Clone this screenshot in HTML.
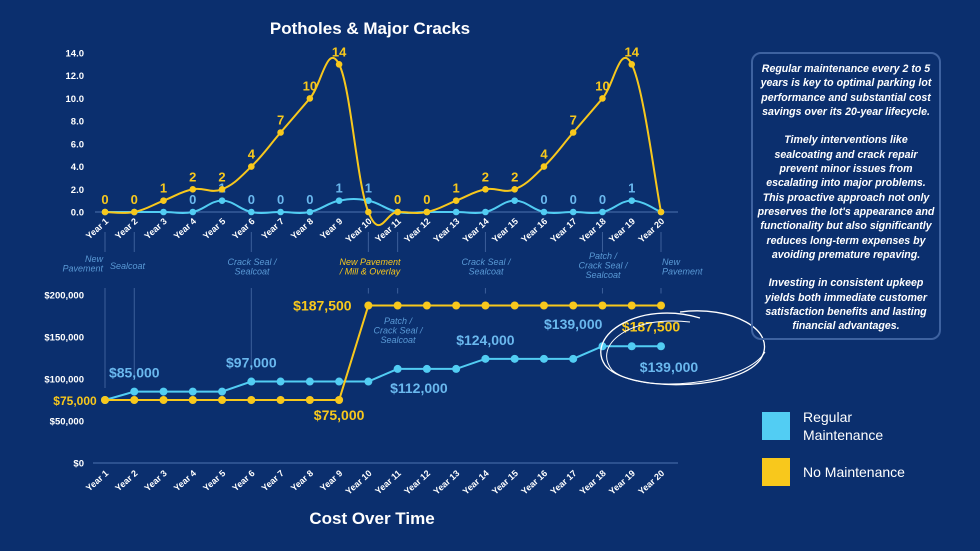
<!DOCTYPE html>
<html><head><meta charset="utf-8">
<style>
body{margin:0;background:#0b2f6e;}
svg{display:block;font-family:"Liberation Sans",sans-serif;}
.note{position:absolute;left:751px;top:52px;width:190px;height:288px;border:2px solid #3e62a0;border-radius:10px;box-sizing:border-box;color:#fff;font:italic bold 10.6px/14.3px "Liberation Sans",sans-serif;text-align:center;padding:8px 4px;}
.note p{margin:0 0 14.3px 0;}
</style></head>
<body>
<div style="position:relative;width:980px;height:551px;overflow:hidden;">
<svg id="c" width="980" height="551"></svg>
<div class="note">
<p>Regular maintenance every 2 to 5 years is key to optimal parking lot performance and substantial cost savings over its 20-year lifecycle.</p>
<p>Timely interventions like sealcoating and crack repair prevent minor issues from escalating into major problems. This proactive approach not only preserves the lot's appearance and functionality but also significantly reduces long-term expenses by avoiding premature repaving.</p>
<p>Investing in consistent upkeep yields both immediate customer satisfaction benefits and lasting financial advantages.</p>
</div>
</div>
<script>
const years=["Year 1","Year 2","Year 3","Year 4","Year 5","Year 6","Year 7","Year 8","Year 9","Year 10","Year 11","Year 12","Year 13","Year 14","Year 15","Year 16","Year 17","Year 18","Year 19","Year 20"];
const potholesNoMaint=[0,0,1,2,2,4,7,10,13,0,0,0,1,2,2,4,7,10,13,0];
const potholesNoMaintLabels=["0","0","1","2","2","4","7","10","14","","0","0","1","2","2","4","7","10","14",""];
const potholesRegular=[0,0,0,0,1,0,0,0,1,1,0,0,0,0,1,0,0,0,1,0];
const potholesRegularLabels=["","","","0","1","0","0","0","1","1","","","","","","0","0","0","1",""];
const potTicks=[0,2,4,6,8,10,12,14];
const costNoMaint=[75000,75000,75000,75000,75000,75000,75000,75000,75000,187500,187500,187500,187500,187500,187500,187500,187500,187500,187500,187500];
const costRegular=[75000,85000,85000,85000,85000,97000,97000,97000,97000,97000,112000,112000,112000,124000,124000,124000,124000,139000,139000,139000];
const costTicks=[0,50000,100000,150000,200000];
const costTickLabels=["$0","$50,000","$100,000","$150,000","$200,000"];
const costLabels=[
 {s:"r",i:1,t:"$85,000",dx:0,dy:-14},{s:"r",i:5,t:"$97,000",dx:0,dy:-14},
 {s:"r",i:11,t:"$112,000",dx:-8,dy:24},{s:"r",i:13,t:"$124,000",dx:0,dy:-14},
 {s:"r",i:16,t:"$139,000",dx:0,dy:-30},{s:"r",i:19,t:"$139,000",dx:8,dy:26},
 {s:"n",i:9,t:"$187,500",dx:-46,dy:5},{s:"n",i:8,t:"$75,000",dx:0,dy:20},
 {s:"n",i:19,t:"$187,500",dx:-10,dy:26},{s:"n",i:0,t:"$75,000",dx:-30,dy:5}];
const YEL="#f8c81c",BLU="#52cdf3",LB="#6ab8ee",AN="#5a9ad6";
const svg=document.getElementById('c');const NS="http://www.w3.org/2000/svg";
function el(tag,at,txt){const e=document.createElementNS(NS,tag);for(const k in at)e.setAttribute(k,at[k]);if(txt!=null)e.textContent=txt;svg.appendChild(e);return e;}
const x=i=>105+i*(556/19);
const yP=v=>212-v*(159/14);
const yC=v=>463-v*(168/200000);
function smooth(pts){let d="M"+pts[0][0]+","+pts[0][1];for(let i=0;i<pts.length-1;i++){const p0=pts[i-1]||pts[i],p1=pts[i],p2=pts[i+1],p3=pts[i+2]||p2;const t=0.2;d+=` C${p1[0]+(p2[0]-p0[0])*t},${p1[1]+(p2[1]-p0[1])*t} ${p2[0]-(p3[0]-p1[0])*t},${p2[1]-(p3[1]-p1[1])*t} ${p2[0]},${p2[1]}`;}return d;}
// titles
let e=el('text',{x:370,y:34,'text-anchor':'middle',fill:'#fff','font-size':17,'font-weight':'bold'},"Potholes & Major Cracks");

e=el('text',{x:372,y:524,'text-anchor':'middle',fill:'#fff','font-size':17,'font-weight':'bold'},"Cost Over Time");

// annotation lines
[0,1,5,9,10,13,17,19].forEach(i=>{e=el('line',{x1:x(i),x2:x(i),y1:288,y2:Math.min(yC(costRegular[i]),yC(costNoMaint[i]))-12,stroke:'#3c5f9a','stroke-width':1});

e=el('line',{x1:x(i),x2:x(i),y1:232,y2:252,stroke:'#3c5f9a','stroke-width':1});});
// top axis
potTicks.forEach(v=>{e=el('text',{x:84,y:yP(v)+3.5,'text-anchor':'end',fill:'#fff','font-size':9.5,'font-weight':'bold'},v.toFixed(1));
});
e=el('line',{x1:95,x2:678,y1:212,y2:212,stroke:'#4d73b0','stroke-width':1});
years.forEach((t,i)=>{e=el('text',{x:x(i)+4,y:222,'text-anchor':'end',fill:'#fff','font-size':9,'font-weight':'bold',transform:`rotate(-42 ${x(i)+4} 222)`},t);

e=el('text',{x:x(i)+4,y:474,'text-anchor':'end',fill:'#fff','font-size':9,'font-weight':'bold',transform:`rotate(-42 ${x(i)+4} 474)`},t);
});
// top series
[[potholesRegular,BLU,potholesRegularLabels,LB,'regular-potholes'],[potholesNoMaint,YEL,potholesNoMaintLabels,YEL,'no-maint-potholes']].forEach(([arr,col,lab,lc,nm])=>{
 const pts=arr.map((v,i)=>[x(i),yP(v)]);
 e=el('path',{d:smooth(pts),fill:'none',stroke:col,'stroke-width':2});
 pts.forEach((p,i)=>{e=el('circle',{cx:p[0],cy:p[1],r:3.3,fill:col});
  if(lab[i]){e=el('text',{x:p[0],y:p[1]-8,'text-anchor':'middle',fill:lc,'font-size':13,'font-weight':'bold'},lab[i]);}});
});
// bottom axis
costTicks.forEach((v,k)=>{e=el('text',{x:84,y:yC(v)+3.5,'text-anchor':'end',fill:'#fff','font-size':9.5,'font-weight':'bold'},costTickLabels[k]);
});
e=el('line',{x1:93,x2:678,y1:463,y2:463,stroke:'#4d73b0','stroke-width':1});
[[costRegular,BLU,'regular-cost'],[costNoMaint,YEL,'no-maint-cost']].forEach(([arr,col,nm])=>{
 const pts=arr.map((v,i)=>[x(i),yC(v)]);
 e=el('polyline',{points:pts.map(p=>p.join(',')).join(' '),fill:'none',stroke:col,'stroke-width':2});
 pts.forEach(p=>{e=el('circle',{cx:p[0],cy:p[1],r:4,fill:col});});
});
costLabels.forEach(l=>{const v=(l.s=="r"?costRegular:costNoMaint)[l.i];
 e=el('text',{x:x(l.i)+l.dx,y:yC(v)+l.dy,'text-anchor':'middle',fill:l.s=="r"?LB:YEL,'font-size':l.i==0?12:14,'font-weight':'bold'},l.t);
 });
// annotations
const ann=[[80,["New","Pavement"],AN,'end',262],[110,["Sealcoat"],AN,'start',269],[252,["Crack Seal /","Sealcoat"],AN,'middle',265],[370,["New Pavement","/ Mill & Overlay"],YEL,'middle',265],[486,["Crack Seal /","Sealcoat"],AN,'middle',265],[603,["Patch /","Crack Seal /","Sealcoat"],AN,'middle',259],[662,["New","Pavement"],AN,'start',265],[398,["Patch /","Crack Seal /","Sealcoat"],AN,'middle',324]];
ann.forEach(([ax,lines,col,anc,ay])=>lines.forEach((t,k)=>{e=el('text',{x:ax+(anc=='end'?23:0),y:ay+k*9.5,'text-anchor':anc,fill:col,'font-size':9,'font-style':'italic'},t);
 }));
// ellipse
e=el('path',{d:"M700,318 C640,300 585,335 605,365 C625,392 735,392 760,360 C780,330 730,305 680,312",fill:'none',stroke:'#fff','stroke-width':1.3});
e=el('path',{d:"M690,322 C630,315 592,345 612,370 C640,395 745,385 765,352",fill:'none',stroke:'#fff','stroke-width':1});
// legend
e=el('rect',{x:762,y:412,width:28,height:28,fill:BLU});
e=el('text',{x:803,y:422,fill:'#fff','font-size':14},"Regular");
e=el('text',{x:803,y:440,fill:'#fff','font-size':14},"Maintenance");
e=el('rect',{x:762,y:458,width:28,height:28,fill:YEL});
e=el('text',{x:803,y:477,fill:'#fff','font-size':14},"No Maintenance");
</script>
</body></html>
